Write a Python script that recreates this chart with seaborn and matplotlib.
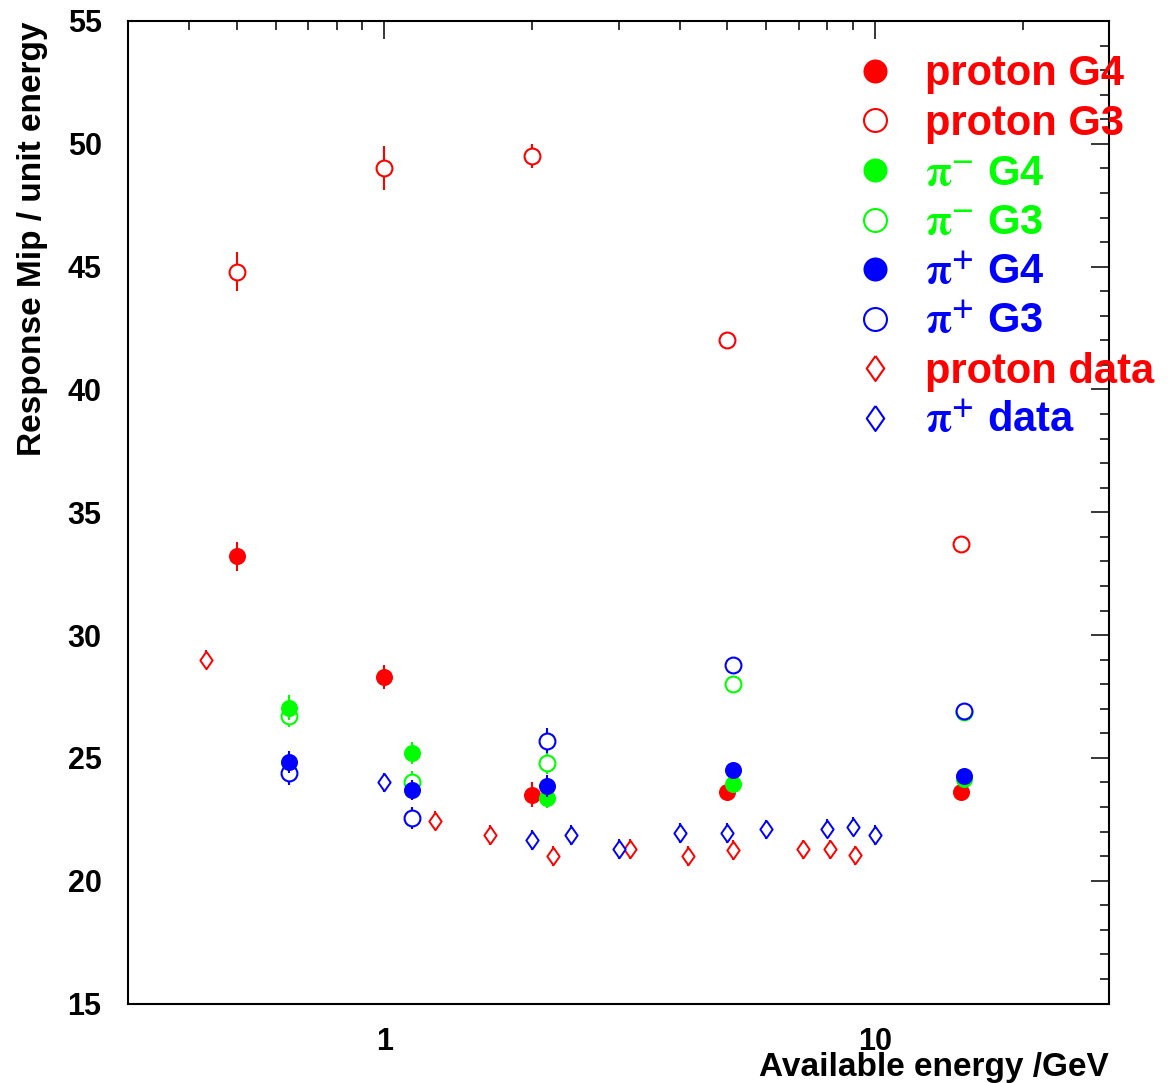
import matplotlib
matplotlib.use("Agg")
import matplotlib.pyplot as plt
import seaborn as sns
import pandas as pd
from matplotlib.lines import Line2D
from matplotlib.markers import MarkerStyle
from matplotlib.ticker import LogLocator, NullFormatter

# ---------------- data ----------------
proton_x = [0.5, 1.0, 2.0, 5.0, 15.0]
protonG4_y = [33.2, 28.3, 23.5, 23.6, 23.6]
protonG4_err = [0.6, 0.5, 0.5, 0.3, 0.3]
protonG3_y = [44.8, 49.0, 49.5, 42.0, 33.7]
protonG3_err = [0.8, 0.9, 0.5, 0.3, 0.3]

pion_x = [0.64, 1.14, 2.14, 5.14, 15.2]
pimG4_y = [27.05, 25.2, 23.35, 23.95, 24.15]
pimG4_err = [0.5, 0.45, 0.4, 0.3, 0.3]
pimG3_y = [26.7, 24.0, 24.8, 28.0, 26.85]
pimG3_err = [0.45, 0.45, 0.45, 0.3, 0.3]
pipG4_y = [24.85, 23.7, 23.85, 24.5, 24.25]
pipG4_err = [0.45, 0.4, 0.45, 0.3, 0.3]
pipG3_y = [24.4, 22.55, 25.7, 28.8, 26.9]
pipG3_err = [0.5, 0.45, 0.5, 0.3, 0.3]

protondata_x = [0.433, 1.27, 1.64, 2.21, 3.17, 4.15, 5.14, 7.12, 8.11, 9.11]
protondata_y = [29.0, 22.45, 21.85, 21.0, 21.3, 21.0, 21.25, 21.27, 21.27, 21.03]
protondata_err = [0.4] * 10

pipdata_x = [1.0, 2.0, 2.4, 3.0, 4.0, 5.0, 6.0, 8.0, 9.0, 10.0]
pipdata_y = [24.0, 21.65, 21.85, 21.28, 21.93, 21.93, 22.09, 22.12, 22.2, 21.85]
pipdata_err = [0.4] * 10

labels = ["proton G4", "proton G3",
          r"$\mathrm{\pi}^{\mathbf{-}}$ G4", r"$\mathrm{\pi}^{\mathbf{-}}$ G3",
          r"$\mathrm{\pi}^{\mathbf{+}}$ G4", r"$\mathrm{\pi}^{\mathbf{+}}$ G3",
          "proton data", r"$\mathrm{\pi}^{\mathbf{+}}$ data"]

xlim = (0.3, 30)
ylim = (15, 55)
xtick_vals = [1, 10]
xtick_labels = ["1", "10"]
ytick_vals = [15, 20, 25, 30, 35, 40, 45, 50, 55]

RED, GREEN, BLUE = "#ff0000", "#00ff00", "#0000ff"

# ---------------- style ----------------
sns.set_theme(style="white")
plt.rcParams["font.family"] = ["Liberation Sans", "DejaVu Sans"]
plt.rcParams["font.weight"] = "bold"
plt.rcParams["mathtext.fontset"] = "stix"
plt.rcParams["text.color"] = "black"
plt.rcParams["axes.labelcolor"] = "black"
plt.rcParams["xtick.color"] = "black"
plt.rcParams["ytick.color"] = "black"

fig = plt.figure(figsize=(11.72, 10.83), dpi=100)
ax = fig.add_axes([128 / 1172, 1 - 1003.5 / 1083, 981 / 1172, 982.5 / 1083])
ax.set_facecolor("white")

diamond = MarkerStyle([(0, 1), (0.7, 0), (0, -1), (-0.7, 0), (0, 1)])

series = [
    (proton_x, protonG4_y, protonG4_err, RED, "filled"),
    (proton_x, protonG3_y, protonG3_err, RED, "open"),
    (pion_x, pimG4_y, pimG4_err, GREEN, "filled"),
    (pion_x, pimG3_y, pimG3_err, GREEN, "open"),
    (pion_x, pipG4_y, pipG4_err, BLUE, "filled"),
    (pion_x, pipG3_y, pipG3_err, BLUE, "open"),
    (protondata_x, protondata_y, protondata_err, RED, "diamond"),
    (pipdata_x, pipdata_y, pipdata_err, BLUE, "diamond"),
]

for i, (x, y, e, c, kind) in enumerate(series):
    df = pd.DataFrame({"x": x, "y": y})
    if kind == "filled":
        z = 6 + i * 0.1
        ax.errorbar(x, y, yerr=e, fmt="none", ecolor=c, elinewidth=1.5,
                    capsize=0, zorder=z)
        sns.scatterplot(data=df, x="x", y="y", ax=ax, marker="o", s=150,
                        color=c, edgecolor=c, linewidth=0, zorder=z + 0.05,
                        legend=False)
    elif kind == "open":
        z = 3 + i * 0.1
        ax.errorbar(x, y, yerr=e, fmt="none", ecolor=c, elinewidth=1.5,
                    capsize=0, zorder=z)
        sns.scatterplot(data=df, x="x", y="y", ax=ax, marker="o", s=130,
                        color=c, facecolor="white", edgecolor=c, linewidth=1.5,
                        zorder=z + 0.05, legend=False)
    else:
        z = 8 + i * 0.1
        ax.errorbar(x, y, yerr=e, fmt="none", ecolor=c, elinewidth=1.5,
                    capsize=0, zorder=z)
        sns.scatterplot(data=df, x="x", y="y", ax=ax, marker=diamond, s=160,
                        color=c, facecolor="white", edgecolor=c, linewidth=1.4,
                        zorder=z + 0.05, legend=False)

# ---------------- axes ----------------
ax.set_xscale("log")
ax.set_xlim(*xlim)
ax.set_ylim(*ylim)
ax.set_xticks(xtick_vals)
ax.set_xticklabels(xtick_labels)
ax.xaxis.set_minor_locator(LogLocator(base=10, subs=[2, 3, 4, 5, 6, 7, 8, 9], numticks=20))
ax.xaxis.set_minor_formatter(NullFormatter())
ax.set_yticks(ytick_vals)
ax.set_yticks(range(15, 56), minor=True)

for sp in ax.spines.values():
    sp.set_visible(True)
    sp.set_color("black")
    sp.set_linewidth(1.5)

ax.tick_params(which="both", direction="in", top=True, right=True,
               colors="black", width=1.1)
ax.tick_params(which="major", length=13)
ax.tick_params(which="minor", length=6.5)
ax.tick_params(axis="y", which="major", labelsize=22, pad=19)
ax.tick_params(axis="x", which="major", labelsize=22, pad=17)
for t in ax.get_xticklabels() + ax.get_yticklabels():
    t.set_fontweight("bold")
    t.set_color("black")

ax.set_xlabel("Available energy /GeV", fontsize=24, fontweight="bold",
              loc="right", color="black")
ax.xaxis.set_label_coords(1.0, -0.049)
ax.set_ylabel("Response Mip / unit energy", fontsize=24, fontweight="bold",
              loc="top", color="black")
ax.yaxis.set_label_coords(-0.082, 1.0)

# ---------------- legend ----------------
handles = []
for (x, y, e, c, kind) in series:
    if kind == "filled":
        h = Line2D([], [], linestyle="none", marker="o", markersize=17.3,
                   markerfacecolor=c, markeredgecolor=c, markeredgewidth=0)
    elif kind == "open":
        h = Line2D([], [], linestyle="none", marker="o", markersize=16.5,
                   markerfacecolor="none", markeredgecolor=c, markeredgewidth=1.5)
    else:
        h = Line2D([], [], linestyle="none", marker=diamond, markersize=18,
                   markerfacecolor="none", markeredgecolor=c, markeredgewidth=1.5)
    handles.append(h)

leg = ax.legend(handles, labels, loc="upper left",
                bbox_to_anchor=(0.740, 0.966), frameon=False,
                prop={"family": "Liberation Sans", "weight": "bold", "size": 30},
                handlelength=1.0, handletextpad=0.7, labelspacing=0.23,
                borderpad=0, borderaxespad=0)
for t, (x, y, e, c, kind) in zip(leg.get_texts(), series):
    t.set_color(c)

fig.savefig("out.png", dpi=100, facecolor="white")
